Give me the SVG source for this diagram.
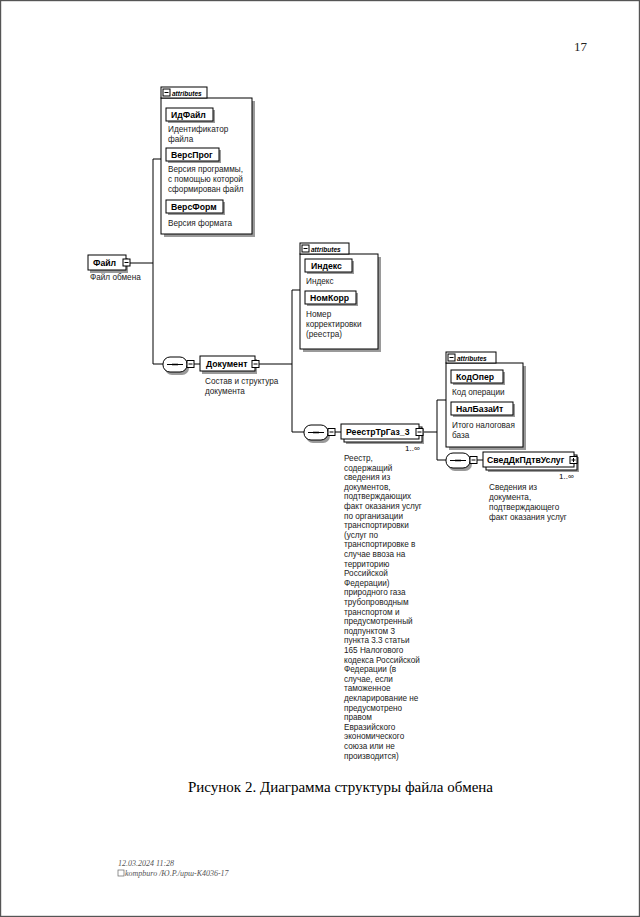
<svg xmlns="http://www.w3.org/2000/svg" width="640" height="917" viewBox="0 0 640 917">
<style>
.bg{fill:#fff}
.frame{fill:none;stroke:#555;stroke-width:1.2}
.box{fill:#fff;stroke:#000;stroke-width:1}
.sh{fill:#9a9a9a}
.ln{fill:none;stroke:#000;stroke-width:1}
.nm{font-family:"Liberation Sans",Arial,sans-serif;font-weight:bold;font-size:8.7px;fill:#000}
.ds{font-family:"Liberation Sans",Arial,sans-serif;font-size:8.2px;fill:#222}
.tab{font-family:"Liberation Sans",Arial,sans-serif;font-style:italic;font-weight:bold;font-size:6.5px;fill:#000}
.oc{font-family:"Liberation Sans",Arial,sans-serif;font-size:8px;fill:#000}
.cap{font-family:"Liberation Serif","Times New Roman",serif;font-size:15px;fill:#000}
.pg{font-family:"Liberation Serif","Times New Roman",serif;font-size:13px;fill:#222}
.ft{font-family:"Liberation Serif","Times New Roman",serif;font-style:italic;font-size:8px;fill:#555}
</style>
<defs>
<g id="minus"><rect class="box" x="0" y="0" width="7" height="7"/><line class="ln" x1="1.5" y1="3.5" x2="5.5" y2="3.5"/></g>
<g id="plus"><rect class="box" x="0" y="0" width="7" height="7"/><line class="ln" x1="1.5" y1="3.5" x2="5.5" y2="3.5"/><line class="ln" x1="3.5" y1="1.5" x2="3.5" y2="5.5"/></g>
<g id="seq"><rect class="sh" x="2" y="3" width="24" height="15" rx="7"/><rect class="box" x="0" y="0" width="24" height="15" rx="7"/><line class="ln" x1="4" y1="7.5" x2="20" y2="7.5"/><circle cx="10" cy="7.5" r="1" fill="#000"/><circle cx="12" cy="7.5" r="1" fill="#000"/><circle cx="14" cy="7.5" r="1" fill="#000"/></g>
</defs>
<rect class="bg" x="0" y="0" width="640" height="917"/>
<rect class="frame" x="0.6" y="0.6" width="638.8" height="915.8"/>

<text class="pg" x="574" y="51">17</text>

<g id="connectors">
<line class="ln" x1="153" y1="159" x2="153" y2="364"/>
<line class="ln" x1="153" y1="159" x2="161" y2="159"/>
<line class="ln" x1="130" y1="263" x2="153" y2="263"/>
<line class="ln" x1="153" y1="364" x2="163" y2="364"/>
<line class="ln" x1="194" y1="364" x2="200" y2="364"/>
<line class="ln" x1="259" y1="364" x2="292" y2="364"/>
<line class="ln" x1="292" y1="290" x2="292" y2="432"/>
<line class="ln" x1="292" y1="290" x2="300" y2="290"/>
<line class="ln" x1="292" y1="432" x2="304" y2="432"/>
<line class="ln" x1="335" y1="432" x2="341" y2="432"/>
<line class="ln" x1="424" y1="432" x2="437" y2="432"/>
<line class="ln" x1="437" y1="400" x2="437" y2="460"/>
<line class="ln" x1="437" y1="400" x2="446" y2="400"/>
<line class="ln" x1="437" y1="460" x2="446" y2="460"/>
<line class="ln" x1="476" y1="460" x2="483" y2="460"/>
</g>

<g id="attrs1">
<rect class="sh" x="164" y="101" width="91" height="136"/>
<rect class="box" x="161" y="98" width="91" height="136"/>
<rect class="box" x="161" y="87" width="46" height="11"/>
<use href="#minus" x="163" y="89"/>
<text class="tab" x="172" y="95.5">attributes</text>
<g id="ИдФайл"><rect class="sh" x="168" y="110" width="47" height="13"/><rect class="box" x="166" y="108" width="47" height="13"/><text class="nm" x="171" y="118">ИдФайл</text>
<text class="ds" x="168" y="132">Идентификатор</text><text class="ds" x="168" y="142">файла</text></g>
<g id="ВерсПрог"><rect class="sh" x="168" y="150" width="53" height="13"/><rect class="box" x="166" y="148" width="53" height="13"/><text class="nm" x="171" y="158">ВерсПрог</text>
<text class="ds" x="168" y="172">Версия программы,</text><text class="ds" x="168" y="182">с помощью которой</text><text class="ds" x="168" y="192">сформирован файл</text></g>
<g id="ВерсФорм"><rect class="sh" x="168" y="202" width="57" height="13"/><rect class="box" x="166" y="200" width="57" height="13"/><text class="nm" x="171" y="210">ВерсФорм</text>
<text class="ds" x="168" y="226">Версия формата</text></g>
</g>

<g id="Файл">
<rect class="sh" x="90" y="258" width="38" height="15"/>
<rect class="box" x="88" y="255" width="38" height="15"/>
<text class="nm" x="93" y="266">Файл</text>
<use href="#minus" x="123" y="259"/>
<text class="ds" x="90" y="280">Файл обмена</text>
</g>

<g id="Документ">
<use href="#seq" x="163" y="357"/>
<use href="#minus" x="187" y="360.5"/>
<rect class="sh" x="202" y="359" width="55" height="15"/>
<rect class="box" x="200" y="356" width="55" height="15"/>
<text class="nm" x="206" y="367">Документ</text>
<use href="#minus" x="252" y="360.5"/>
<text class="ds" x="205" y="384">Состав и структура</text>
<text class="ds" x="205" y="394">документа</text>
</g>

<g id="attrs2">
<rect class="sh" x="303" y="257" width="78" height="95"/>
<rect class="box" x="300" y="254" width="78" height="95"/>
<rect class="box" x="300" y="243" width="49" height="11"/>
<use href="#minus" x="302" y="245"/>
<text class="tab" x="311" y="251.5">attributes</text>
<g id="Индекс"><rect class="sh" x="307" y="261" width="47" height="13"/><rect class="box" x="305" y="259" width="47" height="13"/><text class="nm" x="311" y="269">Индекс</text>
<text class="ds" x="306" y="284">Индекс</text></g>
<g id="НомКорр"><rect class="sh" x="307" y="293" width="51" height="13"/><rect class="box" x="305" y="291" width="51" height="13"/><text class="nm" x="310" y="301">НомКорр</text>
<text class="ds" x="306" y="317">Номер</text><text class="ds" x="306" y="327">корректировки</text><text class="ds" x="306" y="337">(реестра)</text></g>
</g>

<g id="РеестрТрГаз_3">
<use href="#seq" x="304" y="425"/>
<use href="#minus" x="328" y="428.5"/>
<rect class="sh" x="346" y="429" width="78" height="15"/>
<rect class="box" x="344" y="427" width="78" height="15"/>
<rect class="box" x="341" y="424" width="78" height="15"/>
<text class="nm" x="346" y="435">РеестрТрГаз_3</text>
<use href="#minus" x="416" y="428.5"/>
<text class="oc" x="405" y="451">1..∞</text>
<text class="ds" x="344">
<tspan x="344" y="461">Реестр,</tspan>
<tspan x="344" y="470.6">содержащий</tspan>
<tspan x="344" y="480.2">сведения из</tspan>
<tspan x="344" y="489.8">документов,</tspan>
<tspan x="344" y="499.4">подтверждающих</tspan>
<tspan x="344" y="509">факт оказания услуг</tspan>
<tspan x="344" y="518.6">по организации</tspan>
<tspan x="344" y="528.2">транспортировки</tspan>
<tspan x="344" y="537.8">(услуг по</tspan>
<tspan x="344" y="547.4">транспортировке в</tspan>
<tspan x="344" y="557">случае ввоза на</tspan>
<tspan x="344" y="566.6">территорию</tspan>
<tspan x="344" y="576.2">Российской</tspan>
<tspan x="344" y="585.8">Федерации)</tspan>
<tspan x="344" y="595.4">природного газа</tspan>
<tspan x="344" y="605">трубопроводным</tspan>
<tspan x="344" y="614.6">транспортом и</tspan>
<tspan x="344" y="624.2">предусмотренный</tspan>
<tspan x="344" y="633.8">подпунктом 3</tspan>
<tspan x="344" y="643.4">пункта 3.3 статьи</tspan>
<tspan x="344" y="653">165 Налогового</tspan>
<tspan x="344" y="662.6">кодекса Российской</tspan>
<tspan x="344" y="672.2">Федерации (в</tspan>
<tspan x="344" y="681.8">случае, если</tspan>
<tspan x="344" y="691.4">таможенное</tspan>
<tspan x="344" y="701">декларирование не</tspan>
<tspan x="344" y="710.6">предусмотрено</tspan>
<tspan x="344" y="720.2">правом</tspan>
<tspan x="344" y="729.8">Евразийского</tspan>
<tspan x="344" y="739.4">экономического</tspan>
<tspan x="344" y="749">союза или не</tspan>
<tspan x="344" y="758.6">производится)</tspan>
</text>
</g>

<g id="attrs3">
<rect class="sh" x="449" y="366" width="77" height="84"/>
<rect class="box" x="446" y="363" width="77" height="84"/>
<rect class="box" x="446" y="352" width="50" height="11"/>
<use href="#minus" x="448" y="354"/>
<text class="tab" x="457" y="360.5">attributes</text>
<g id="КодОпер"><rect class="sh" x="453" y="372" width="52" height="13"/><rect class="box" x="451" y="370" width="52" height="13"/><text class="nm" x="456" y="380">КодОпер</text>
<text class="ds" x="452" y="395">Код операции</text></g>
<g id="НалБазаИт"><rect class="sh" x="453" y="404" width="62" height="13"/><rect class="box" x="451" y="402" width="62" height="13"/><text class="nm" x="456" y="412">НалБазаИт</text>
<text class="ds" x="452" y="428">Итого налоговая</text><text class="ds" x="452" y="438">база</text></g>
</g>

<g id="СведДкПдтвУслуг">
<use href="#seq" x="446" y="453"/>
<use href="#minus" x="470" y="456.5"/>
<rect class="sh" x="488" y="457" width="91" height="15"/>
<rect class="box" x="486" y="455" width="91" height="15"/>
<rect class="box" x="483" y="452" width="91" height="15"/>
<text class="nm" x="487" y="463">СведДкПдтвУслуг</text>
<use href="#plus" x="570" y="456.5"/>
<text class="oc" x="559" y="479">1..∞</text>
<text class="ds" x="489" y="490">Сведения из</text>
<text class="ds" x="489" y="500">документа,</text>
<text class="ds" x="489" y="510">подтверждающего</text>
<text class="ds" x="489" y="520">факт оказания услуг</text>
</g>

<text class="cap" x="188" y="792">Рисунок 2. Диаграмма структуры файла обмена</text>

<g id="footer">
<text class="ft" x="118" y="866">12.03.2024 11:28</text>
<rect x="118" y="870" width="6" height="6" fill="none" stroke="#666" stroke-width="0.7"/>
<text class="ft" x="125" y="876">kompburo /Ю.Р./ирш-К4036-17</text>
</g>
</svg>
